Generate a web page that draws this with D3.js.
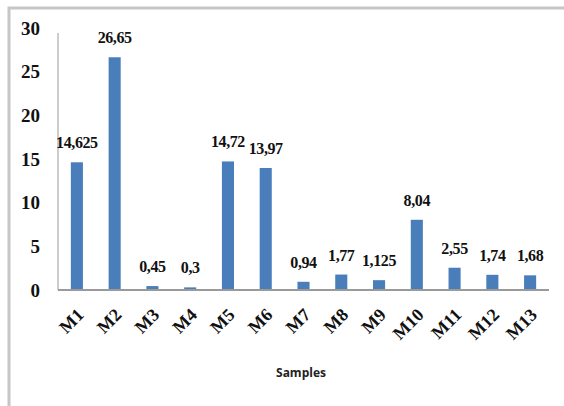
<!DOCTYPE html>
<html><head><meta charset="utf-8">
<script src="https://cdn.jsdelivr.net/npm/d3@7"></script>
<style>body{margin:0;background:#fff}svg{display:block}
.serif{font-family:"Liberation Serif","Times New Roman",serif;font-weight:bold}</style>
</head><body><svg id="c" width="564" height="406"></svg>
<script>
const categories = ["M1","M2","M3","M4","M5","M6","M7","M8","M9","M10","M11","M12","M13"];
const values = [14.625,26.65,0.45,0.3,14.72,13.97,0.94,1.77,1.125,8.04,2.55,1.74,1.68];
const valueLabels = ["14,625","26,65","0,45","0,3","14,72","13,97","0,94","1,77","1,125","8,04","2,55","1,74","1,68"];
const yTicks = [0,5,10,15,20,25,30];
const xTitle = "Samples";

const svg = d3.select("#c");
// frame
svg.append("path").attr("d","M9,406 V8 H564").attr("fill","none").attr("stroke","#c6c6c6").attr("stroke-width",3);

const x = d3.scaleBand().domain(categories).range([58,549]).paddingInner(0.68).paddingOuter(0.34);
const y = d3.scaleLinear().domain([0,30]).range([290,28]);

// y axis line
svg.append("line").attr("x1",58).attr("x2",58).attr("y1",33).attr("y2",290).attr("stroke","#9a9a9a").attr("stroke-width",1);

// y tick labels
const yAxis = d3.axisLeft(y).tickValues(yTicks).tickSize(0).tickPadding(0);
const ga = svg.append("g").attr("transform","translate(40,0)").call(yAxis);
ga.attr("font-family",null).attr("font-size",null);
ga.select(".domain").remove();
ga.selectAll("text").attr("class","serif").style("font-size","19px").attr("fill","#111").attr("dy","0.33em");

// bars
svg.selectAll("rect.bar").data(values).join("rect").attr("class","bar")
  .attr("x",(d,i)=>x(categories[i])).attr("width",x.bandwidth())
  .attr("y",d=>y(d)).attr("height",d=>y(0)-y(d)).attr("fill","#4a7ebb");

// baseline
svg.append("line").attr("x1",58).attr("x2",549).attr("y1",290).attr("y2",290).attr("stroke","#9a9a9a").attr("stroke-width",2);

// value labels
svg.selectAll("text.val").data(values).join("text").attr("class","val serif")
  .attr("x",(d,i)=>x(categories[i])+x.bandwidth()/2).attr("y",d=>y(d)-14)
  .attr("text-anchor","middle").style("font-size","16px").style("letter-spacing","-0.4px").attr("fill","#111")
  .text((d,i)=>valueLabels[i]);

// x labels
const xAxis = d3.axisBottom(x).tickSize(0).tickPadding(0);
const gx = svg.append("g").attr("transform","translate(0,290)").call(xAxis);
gx.attr("font-family",null).attr("font-size",null);
gx.select(".domain").remove();
gx.selectAll("text").attr("class","serif").style("font-size","18px")
  .attr("fill","#111").attr("text-anchor","end").attr("dy",null).attr("y",null)
  .attr("transform","translate(8,26) rotate(-45)");

// x title
svg.append("text").attr("x",301).attr("y",377).attr("text-anchor","middle")
  .attr("font-family","Open Sans").attr("font-weight","bold").attr("font-size",12).attr("fill","#222").text(xTitle);
</script></body></html>
